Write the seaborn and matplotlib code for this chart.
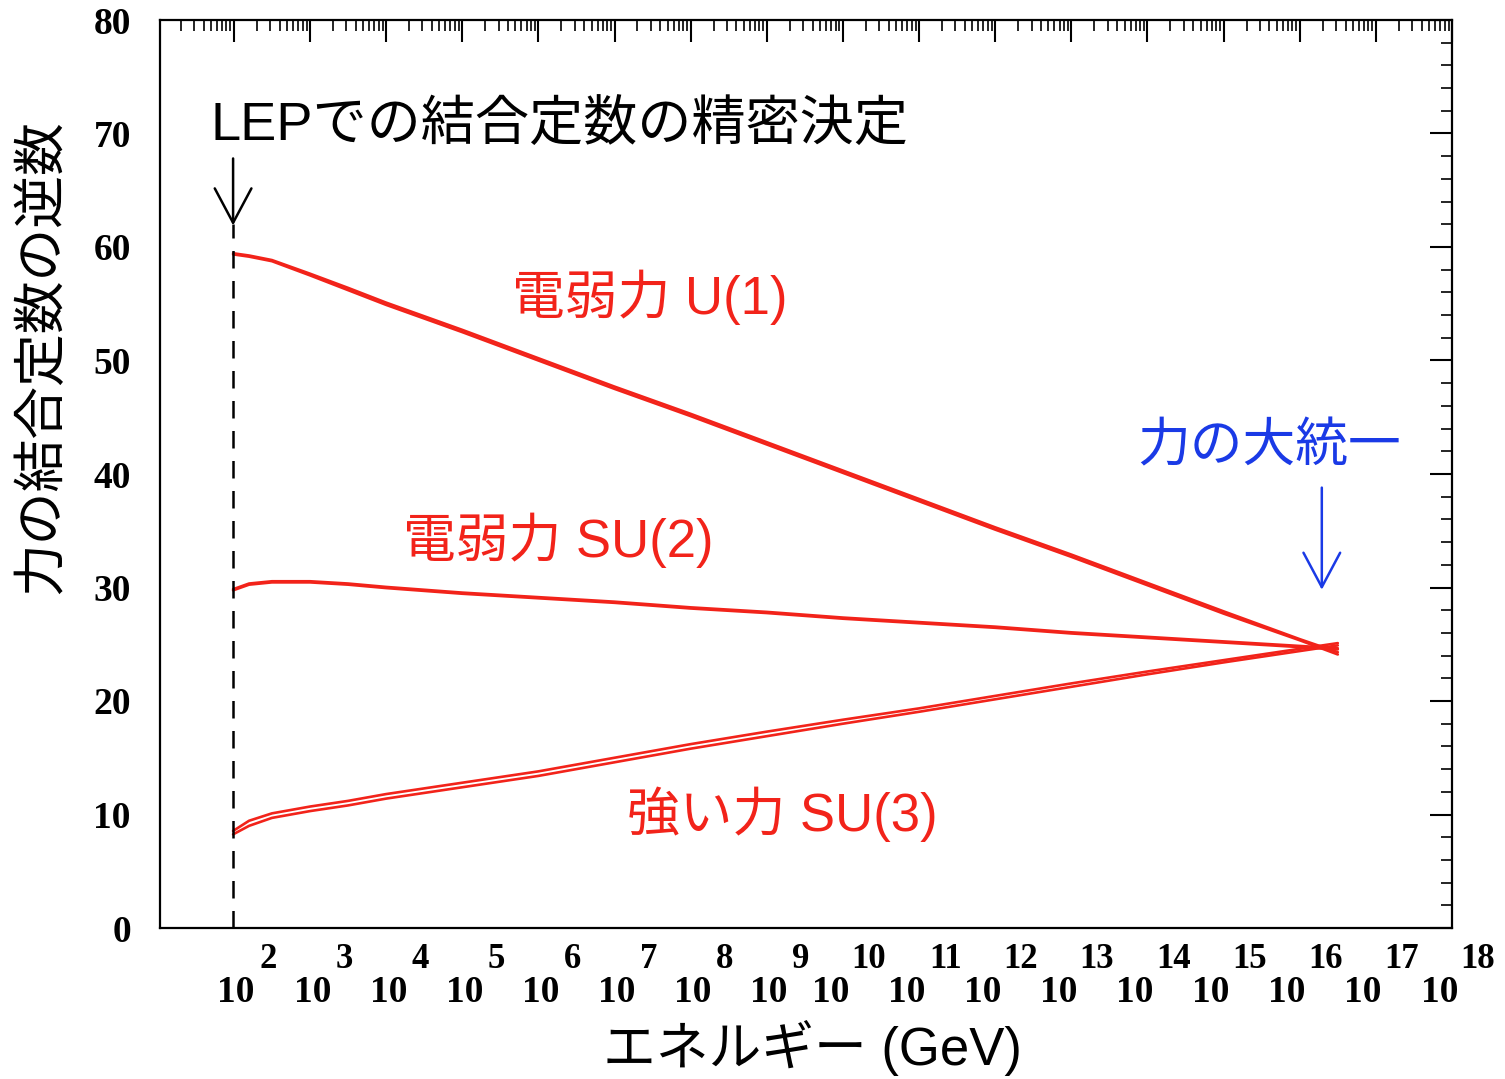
import numpy as np
import pandas as pd
import matplotlib
matplotlib.use('Agg')
import matplotlib.pyplot as plt
import matplotlib.ticker as mticker
import seaborn as sns

# values: log10(E/GeV) and inverse couplings (two bound curves each)
log_E = [1.99, 2.2, 2.5, 3.0, 3.5, 4.0, 5.0, 6.0, 7.0, 8.0, 9.0, 10.0, 11.0, 12.0, 13.0, 14.0, 15.0, 16.0, 16.5]

u1_hi = [59.45, 59.25, 58.85, 57.65, 56.4, 55.1, 52.7, 50.2, 47.7, 45.3, 42.8, 40.3, 37.8, 35.3, 32.9, 30.4, 27.9, 25.45, 24.3]
u1_lo = [59.35, 59.15, 58.75, 57.5, 56.2, 54.9, 52.5, 50.0, 47.5, 45.1, 42.6, 40.1, 37.6, 35.1, 32.7, 30.2, 27.7, 25.35, 24.1]

su2_hi = [29.85, 30.35, 30.55, 30.55, 30.35, 30.05, 29.55, 29.15, 28.75, 28.25, 27.85, 27.35, 26.95, 26.55, 26.05, 25.65, 25.25, 24.85, 24.65]
su2_lo = [29.75, 30.25, 30.45, 30.45, 30.25, 29.95, 29.45, 29.05, 28.65, 28.15, 27.75, 27.25, 26.85, 26.45, 25.95, 25.55, 25.15, 24.75, 24.55]

su3_hi = [8.55, 9.45, 10.1, 10.7, 11.2, 11.8, 12.8, 13.8, 15.0, 16.2, 17.3, 18.35, 19.35, 20.45, 21.55, 22.6, 23.6, 24.6, 25.1]
su3_lo = [8.25, 9.0, 9.7, 10.3, 10.8, 11.4, 12.4, 13.4, 14.6, 15.8, 16.9, 18.0, 19.05, 20.15, 21.25, 22.35, 23.4, 24.4, 24.9]

y_ticks = [0, 10, 20, 30, 40, 50, 60, 70, 80]
x_exponents = list(range(2, 19))
E_LEP = 10 ** 1.99
E_GUT = 10 ** 16.29

curves = {'U1_hi': u1_hi, 'U1_lo': u1_lo, 'SU2_hi': su2_hi, 'SU2_lo': su2_lo,
          'SU3_hi': su3_hi, 'SU3_lo': su3_lo}
frames = []
for name, vals in curves.items():
    frames.append(pd.DataFrame({'E': 10 ** np.array(log_E), 'inv_alpha': vals, 'curve': name}))
df = pd.concat(frames, ignore_index=True)

sns.set_style('white')
plt.rcParams['font.family'] = ['Liberation Sans', 'Noto Sans CJK JP', 'DejaVu Sans']
plt.rcParams['text.color'] = 'black'
plt.rcParams['axes.labelcolor'] = 'black'
plt.rcParams['xtick.color'] = 'black'
plt.rcParams['ytick.color'] = 'black'

RED = '#f2231a'
BLUE = '#1a3ae6'
CJK = ['Liberation Sans', 'Noto Sans CJK JP']

fig = plt.figure(figsize=(15.05, 10.79), dpi=100)
ax = fig.add_axes([160 / 1505, 1 - 928 / 1079, 1292 / 1505, 908 / 1079])

sns.lineplot(data=df, x='E', y='inv_alpha', units='curve', estimator=None,
             color=RED, linewidth=1.9, legend=False, ax=ax)

ax.vlines(E_LEP, 0, 62, colors='black', linewidth=1.8, linestyles=(0, (7, 5)))

ax.set_xscale('log')
ax.set_xlim(10 ** 1.03, 1e18)
ax.set_ylim(0, 80)

ax.xaxis.set_major_locator(mticker.LogLocator(base=10, numticks=40))
ax.xaxis.set_minor_locator(mticker.LogLocator(base=10, subs=np.arange(2, 10), numticks=40))
ax.xaxis.set_major_formatter(mticker.NullFormatter())
ax.xaxis.set_minor_formatter(mticker.NullFormatter())
ax.yaxis.set_minor_locator(mticker.MultipleLocator(2))
ax.set_yticks(y_ticks)
ax.set_yticklabels([str(v) for v in y_ticks], fontfamily='Liberation Serif',
                   fontweight='bold', fontsize=27, color='black')

ax.tick_params(which='both', direction='in', top=True, right=True, colors='black')
ax.tick_params(which='major', length=16, width=1.5)
ax.tick_params(which='minor', length=8, width=1.2)
ax.tick_params(axis='y', which='major', pad=21)

for sp in ax.spines.values():
    sp.set_color('black')
    sp.set_linewidth(1.6)

# x tick labels drawn as "10" with a raised exponent
for e in x_exponents:
    n = len(str(e))
    ax.annotate(str(e), xy=(10.0 ** e, 0), xycoords=('data', 'axes fraction'),
                xytext=(43, -32), textcoords='offset pixels', ha='right', va='center',
                fontfamily='Liberation Serif', fontweight='bold', fontsize=25, color='black')
    ax.annotate('10', xy=(10.0 ** e, 0), xycoords=('data', 'axes fraction'),
                xytext=(43 - 15 * n - 7, -64), textcoords='offset pixels', ha='right', va='center',
                fontfamily='Liberation Serif', fontweight='bold', fontsize=27, color='black')

ax.set_xlabel('エネルギー (GeV)', fontsize=38, family=CJK, color='black')
ax.xaxis.set_label_coords(0.505, -0.132)
ax.xaxis.label.set_va('center')
ax.set_ylabel('力の結合定数の逆数', fontsize=38, family=CJK, color='black')
ax.yaxis.set_label_coords(-118 / 1292, 0.629)
ax.yaxis.label.set_va('center')

ax.text(10 ** 1.69, 70.7, 'LEPでの結合定数の精密決定', fontsize=39, family=CJK,
        color='black', ha='left', va='center')
ax.text(10 ** 5.65, 55.6, '電弱力 U(1)', fontsize=38, family=CJK, color=RED, ha='left', va='center')
ax.text(10 ** 4.22, 34.2, '電弱力 SU(2)', fontsize=38, family=CJK, color=RED, ha='left', va='center')
ax.text(10 ** 7.16, 10.0, '強い力 SU(3)', fontsize=38, family=CJK, color=RED, ha='left', va='center')
ax.text(10 ** 13.87, 42.3, '力の大統一', fontsize=38, family=CJK, color=BLUE, ha='left', va='center')

ax.annotate('', xy=(E_LEP, 61.9), xytext=(E_LEP, 67.8),
            arrowprops=dict(arrowstyle='->,head_length=0.45,head_width=0.24',
                            color='black', lw=1.8, mutation_scale=55, shrinkA=0, shrinkB=0))
ax.annotate('', xy=(E_GUT, 29.8), xytext=(E_GUT, 38.8),
            arrowprops=dict(arrowstyle='->,head_length=0.45,head_width=0.24',
                            color=BLUE, lw=1.8, mutation_scale=55, shrinkA=0, shrinkB=0))

fig.savefig('out.png', dpi=100, facecolor='white')
